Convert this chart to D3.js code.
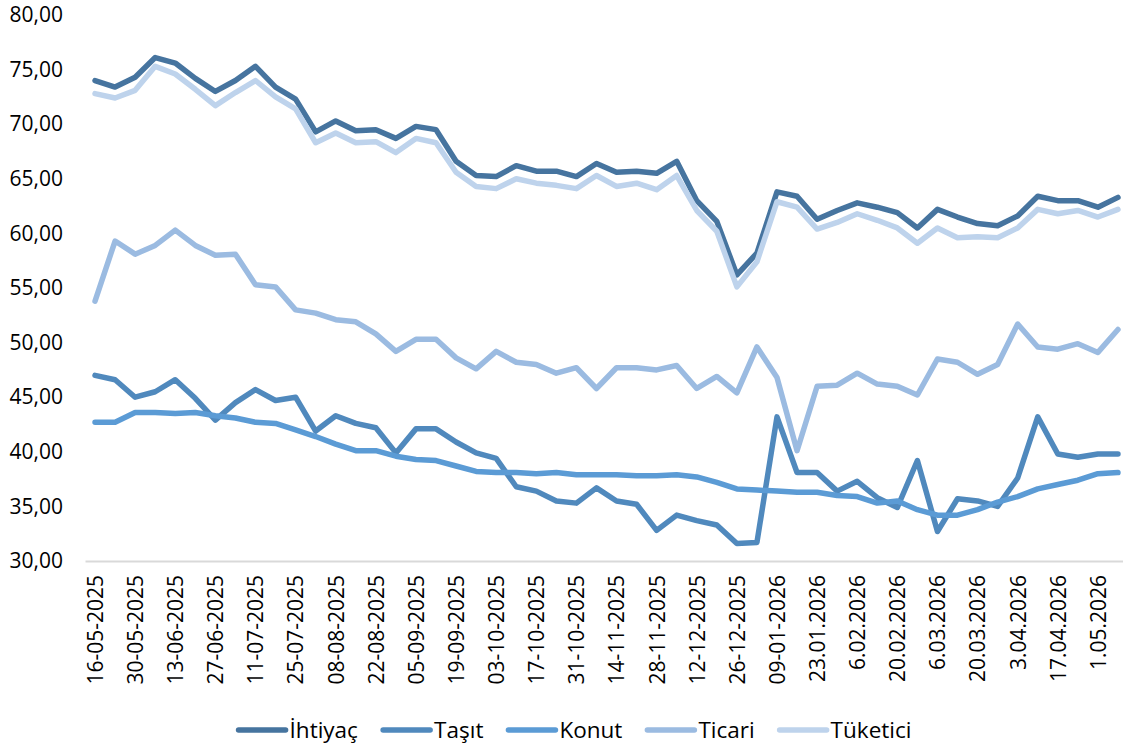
<!DOCTYPE html>
<html>
<head>
<meta charset="utf-8">
<script src="https://cdn.jsdelivr.net/npm/d3@7"></script>
<style>
  body { margin: 0; background: #fff; }
  text { font-family: "Open Sans", sans-serif; fill: #000; }
</style>
</head>
<body>
<div id="chart"></div>
<script>
var W = 1123, H = 749;

// weekly dates, labelled every other week
var dates = [
  "16-05-2025","23-05-2025","30-05-2025","06-06-2025","13-06-2025","20-06-2025","27-06-2025","04-07-2025",
  "11-07-2025","18-07-2025","25-07-2025","01-08-2025","08-08-2025","15-08-2025","22-08-2025","29-08-2025",
  "05-09-2025","12-09-2025","19-09-2025","26-09-2025","03-10-2025","10-10-2025","17-10-2025","24-10-2025",
  "31-10-2025","07-11-2025","14-11-2025","21-11-2025","28-11-2025","05-12-2025","12-12-2025","19-12-2025",
  "26-12-2025","02-01-2026","09-01-2026","16.01.2026","23.01.2026","30.01.2026","6.02.2026","13.02.2026",
  "20.02.2026","27.02.2026","6.03.2026","13.03.2026","20.03.2026","27.03.2026","3.04.2026","10.04.2026",
  "17.04.2026","24.04.2026","1.05.2026","8.05.2026"
];

var ihtiyac = [74.0,73.4,74.3,76.1,75.6,74.2,73.0,74.0,75.3,73.4,72.3,69.3,70.3,69.4,69.5,68.7,
  69.8,69.5,66.6,65.3,65.2,66.2,65.7,65.7,65.2,66.4,65.6,65.7,65.5,66.6,63.0,61.1,
  56.2,58.2,63.8,63.4,61.3,62.1,62.8,62.4,61.9,60.5,62.2,61.5,60.9,60.7,61.6,63.4,
  63.0,63.0,62.4,63.3];
var tasit = [47.0,46.6,45.0,45.5,46.6,44.9,42.9,44.5,45.7,44.7,45.0,41.9,43.3,42.6,42.2,39.9,
  42.1,42.1,40.9,39.9,39.4,36.8,36.4,35.5,35.3,36.7,35.5,35.2,32.8,34.2,33.7,33.3,
  31.6,31.7,43.2,38.1,38.1,36.4,37.3,35.8,34.9,39.2,32.7,35.7,35.5,35.0,37.6,43.2,
  39.8,39.5,39.8,39.8];
var konut = [42.7,42.7,43.6,43.6,43.5,43.6,43.3,43.1,42.7,42.6,42.0,41.4,40.7,40.1,40.1,39.6,
  39.3,39.2,38.7,38.2,38.1,38.1,38.0,38.1,37.9,37.9,37.9,37.8,37.8,37.9,37.7,37.2,
  36.6,36.5,36.4,36.3,36.3,36.0,35.9,35.3,35.5,34.7,34.2,34.2,34.7,35.4,35.9,36.6,
  37.0,37.4,38.0,38.1];
var ticari = [53.8,59.3,58.1,58.9,60.3,58.9,58.0,58.1,55.3,55.1,53.0,52.7,52.1,51.9,50.8,49.2,
  50.3,50.3,48.6,47.6,49.2,48.2,48.0,47.2,47.7,45.8,47.7,47.7,47.5,47.9,45.8,46.9,
  45.4,49.6,46.8,40.1,46.0,46.1,47.2,46.2,46.0,45.2,48.5,48.2,47.1,48.0,51.7,49.6,
  49.4,49.9,49.1,51.2];
var tuketici = [72.8,72.4,73.1,75.3,74.6,73.2,71.7,72.9,74.0,72.5,71.4,68.3,69.2,68.3,68.4,67.4,
  68.7,68.3,65.6,64.3,64.1,65.0,64.6,64.4,64.1,65.3,64.3,64.6,64.0,65.3,62.1,60.2,
  55.1,57.4,62.9,62.4,60.4,61.0,61.8,61.2,60.5,59.1,60.5,59.6,59.7,59.6,60.5,62.2,
  61.8,62.1,61.5,62.2];

var seriesNames = ["İhtiyaç", "Taşıt", "Konut", "Ticari", "Tüketici"];
var seriesValues = [ihtiyac, tasit, konut, ticari, tuketici];
var colors = ["#46749f", "#5089bd", "#5b9bd5", "#9bbbe1", "#bed3ec"];
var yTicks = [30, 35, 40, 45, 50, 55, 60, 65, 70, 75, 80];

var svg = d3.select("#chart").append("svg")
  .attr("width", W)
  .attr("height", H);

var x = d3.scalePoint().domain(dates).range([85, 1128]).padding(0.5);
var y = d3.scaleLinear().domain([30, 80]).range([561, 15]);

var fmt = d3.formatLocale({decimal: ",", thousands: ".", grouping: [3], currency: ["", ""]}).format(".2f");

// y axis (labels only)
var yAxis = svg.append("g")
  .attr("transform", "translate(63,0)")
  .call(d3.axisLeft(y).tickValues(yTicks).tickFormat(fmt).tickSize(0).tickPadding(0));
yAxis.select(".domain").remove();
yAxis.selectAll("text")
  .style("font-family", "'Open Sans', sans-serif")
  .style("font-size", "21px")
  .attr("fill", "#000");

// x axis
var xAxis = svg.append("g")
  .attr("transform", "translate(0," + y(30) + ")")
  .call(d3.axisBottom(x)
    .tickValues(dates.filter(function(d, i) { return i % 2 === 0; }))
    .tickSize(0));
xAxis.select(".domain")
  .attr("stroke", "#d9d9d9")
  .attr("stroke-width", 2);
xAxis.selectAll("text")
  .attr("transform", "rotate(-90)")
  .attr("x", -14)
  .attr("y", 0)
  .attr("dy", "0.35em")
  .style("text-anchor", "end")
  .style("font-family", "'Open Sans', sans-serif")
  .style("font-size", "21px")
  .attr("fill", "#000");

var line = d3.line()
  .x(function(d, i) { return x(dates[i]); })
  .y(function(d) { return y(d); });

svg.selectAll("path.series")
  .data(seriesValues)
  .enter().append("path")
  .attr("class", "series")
  .attr("fill", "none")
  .attr("stroke", function(d, i) { return colors[i]; })
  .attr("stroke-width", 5.5)
  .attr("stroke-linejoin", "round")
  .attr("stroke-linecap", "round")
  .attr("d", line);

// legend
var legend = svg.append("g").attr("class", "legend");
var swatch = 53, gap = 25, cx = 572, ly = 730;
var items = legend.selectAll("g.item")
  .data(seriesNames)
  .enter().append("g")
  .attr("class", "item");
items.append("line")
  .attr("x1", 3).attr("x2", swatch - 3)
  .attr("y1", 0).attr("y2", 0)
  .attr("stroke", function(d, i) { return colors[i]; })
  .attr("stroke-width", 5.5)
  .attr("stroke-linecap", "round");
items.append("text")
  .attr("x", swatch + 1)
  .attr("dy", "0.35em")
  .style("font-size", "22.5px")
  .text(function(d) { return d; });

var widths = [];
items.each(function() { widths.push(this.getBBox().width); });
var total = d3.sum(widths) + gap * (widths.length - 1);
var pos = cx - total / 2;
items.attr("transform", function(d, i) {
  var t = "translate(" + pos + "," + ly + ")";
  pos += widths[i] + gap;
  return t;
});
</script>
</body>
</html>
